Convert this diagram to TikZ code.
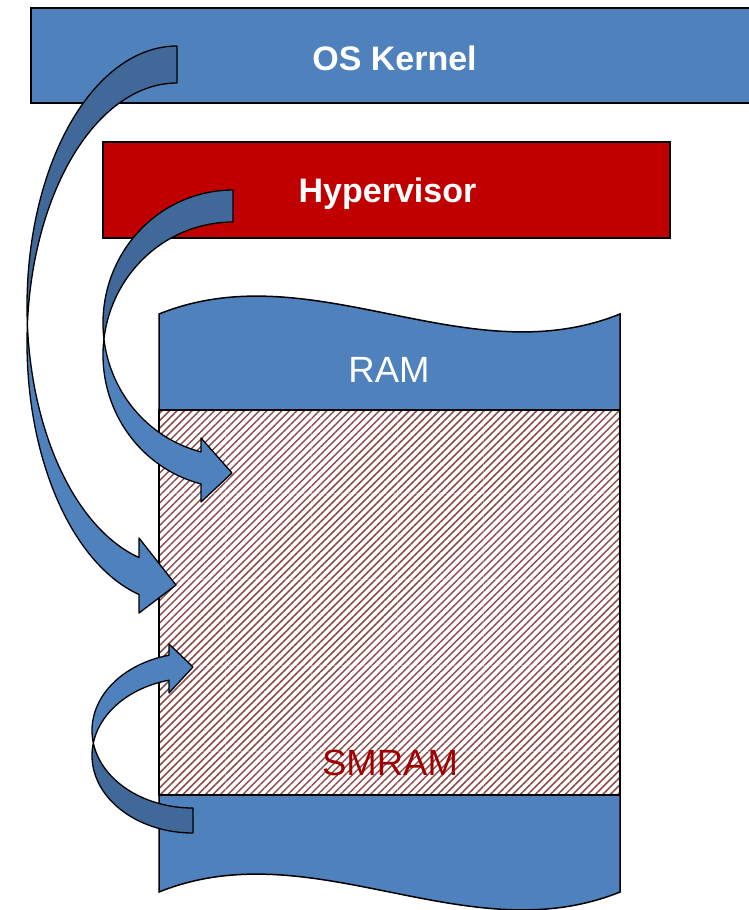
\documentclass[tikz,border=0pt]{standalone}
\usepackage{fontspec}
\setmainfont{Liberation Sans}
\usetikzlibrary{patterns.meta}
\definecolor{boxblue}{RGB}{79,129,189}
\definecolor{backblue}{RGB}{64,104,152}
\definecolor{hyperred}{RGB}{192,0,0}
\definecolor{smramred}{RGB}{160,0,0}
\definecolor{hatchred}{RGB}{140,75,75}
\tikzset{
  blockbox/.style={draw=black, line width=1.5pt},
  ribbonfront/.style={fill=boxblue, draw=black, line width=1.3pt, line join=round},
  ribbonback/.style={fill=backblue, draw=black, line width=1.3pt, line join=round},
  boldlabel/.style={text=white, font=\bfseries\fontsize{34}{39}\selectfont, anchor=base, inner sep=0pt},
  ramlabel/.style={font=\fontsize{36.5}{42}\selectfont, anchor=base, inner sep=0pt},
  gridline/.style={white, opacity=0.3, line width=1pt}
}
\begin{document}
\begin{tikzpicture}[x=1pt, y=-1pt]
\useasboundingbox (0,0) rectangle (748,910);
\fill[white] (0,0) rectangle (748,910);

% OS Kernel box
\draw[blockbox, fill=boxblue] (31,8) rectangle (760,103);
\node[boldlabel] (os) at (394.5,70) {OS Kernel};

% Hypervisor box
\draw[blockbox, fill=hyperred] (103,142) rectangle (670,238);
\node[boldlabel] (hyp) at (387.5,202) {Hypervisor};

% RAM shape
\draw[blockbox, fill=boxblue] (159,314) .. controls (312.7,252) and (466.3,376) .. (620,314)
  -- (620,892) .. controls (466.3,954) and (312.7,830) .. (159,892) -- cycle;
% SMRAM hatched region
\fill[white] (159,410) rectangle (620,795);
\fill[pattern={Lines[angle=45, distance=5.3pt, line width=1.5pt]}, pattern color=hatchred]
  (159,410) rectangle (620,795);
\foreach \gx in {225,311,397,483,569} \draw[gridline] (\gx,411) -- (\gx,794);
\foreach \gy in {493,579,665,751} \draw[gridline] (160,\gy) -- (619,\gy);
\draw[blockbox] (159,410) rectangle (620,795);
\node[ramlabel, text=white] (ram) at (389,382) {RAM};
\node[ramlabel, text=smramred] (smram) at (390,775) {SMRAM};

% OS Kernel curved arrow
\filldraw[ribbonback] plot[domain=270:175.92, samples=60] ({177+150*cos(\x)},{306+260*sin(\x)})
  -- plot[domain=184.08:270, samples=60] ({177+150*cos(\x)},{343+260*sin(\x)}) -- cycle;
\filldraw[ribbonfront] plot[domain=184.08:104.67, samples=60] ({177+150*cos(\x)},{343+260*sin(\x)})
  -- (139,613) -- (176,585) -- (139,538)
  -- plot[domain=104.67:175.92, samples=60] ({177+150*cos(\x)},{306+260*sin(\x)}) -- cycle;

% Hypervisor curved arrow
\filldraw[ribbonback] plot[domain=270:173.09, samples=60] ({233+130*cos(\x)},{323+133*sin(\x)})
  -- plot[domain=186.91:270, samples=60] ({233+130*cos(\x)},{355+133*sin(\x)}) -- cycle;
\filldraw[ribbonfront] plot[domain=186.91:104.25, samples=60] ({233+130*cos(\x)},{355+133*sin(\x)})
  -- (201,502) -- (232,473) -- (201,438)
  -- plot[domain=104.25:173.09, samples=60] ({233+130*cos(\x)},{323+133*sin(\x)}) -- cycle;

% SMRAM curved arrow (tail at bottom)
\filldraw[ribbonback] plot[domain=90:189.28, samples=60] ({193+101*cos(\x)},{755.5+77.5*sin(\x)})
  -- plot[domain=170.72:90, samples=60] ({193+101*cos(\x)},{730.5+77.5*sin(\x)}) -- cycle;
\filldraw[ribbonfront] plot[domain=170.72:256.25, samples=60] ({193+101*cos(\x)},{730.5+77.5*sin(\x)})
  -- (169,644) -- (193,667) -- (169,693)
  -- plot[domain=256.25:189.28, samples=60] ({193+101*cos(\x)},{755.5+77.5*sin(\x)}) -- cycle;
\end{tikzpicture}
\end{document}
